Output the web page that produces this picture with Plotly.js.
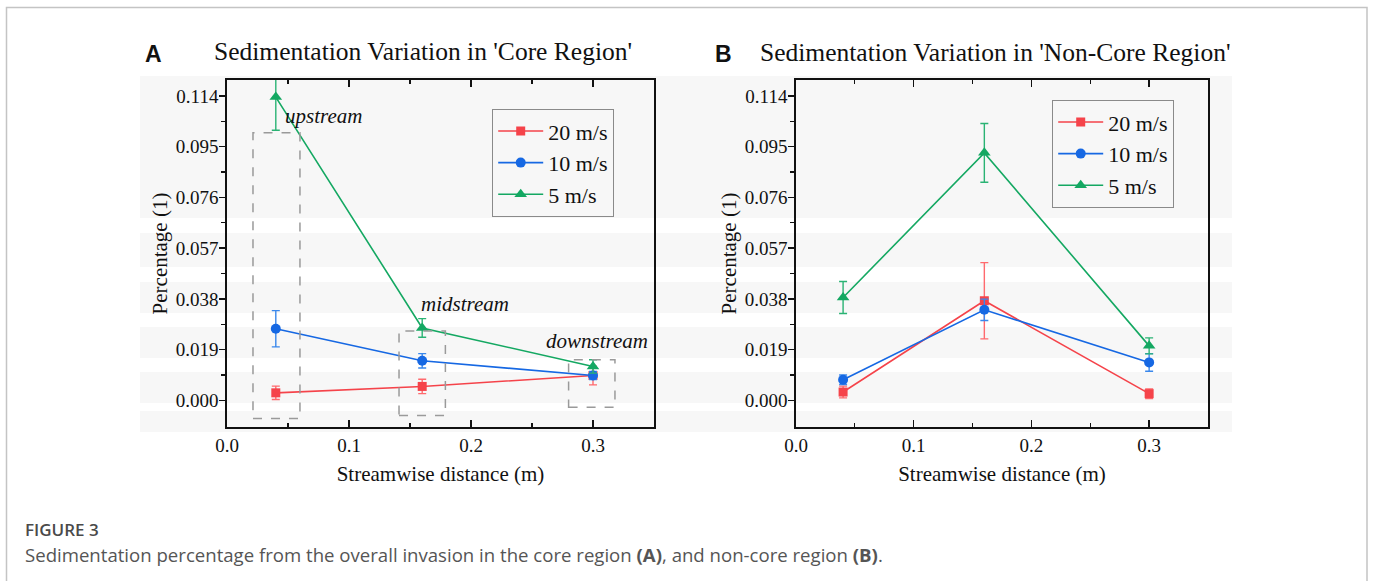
<!DOCTYPE html>
<html>
<head>
<meta charset="utf-8">
<script src="https://cdn.plot.ly/plotly-3.0.1.min.js"></script>
<style>html,body{margin:0;padding:0;background:#fff;}#chart{width:1375px;height:581px;}</style>
</head>
<body>
<div id="chart"></div>
<script>
// ---- data ----
const xPos = [0.04, 0.16, 0.30];
const seriesNames = ['20 m/s', '10 m/s', '5 m/s'];
// Panel A: core region
const coreRed = [0.0028, 0.0052, 0.0093];
const coreRedErr = [0.0025, 0.0027, 0.0035];
const coreBlue = [0.0268, 0.0148, 0.0093];
const coreBlueErr = [0.0068, 0.0027, 0.0015];
const coreGreen = [0.1136, 0.0271, 0.0127];
const coreGreenErr = [0.0124, 0.0035, 0.0025];
// Panel B: non-core region
const nonRed = [0.0031, 0.0373, 0.0025];
const nonRedErr = [0.0022, 0.0143, 0.0018];
const nonBlue = [0.0077, 0.0339, 0.0142];
const nonBlueErr = [0.0018, 0.0040, 0.0033];
const nonGreen = [0.0385, 0.0927, 0.0204];
const nonGreenErr = [0.0060, 0.0110, 0.0030];
// ticks
const yTickVals = [0.000, 0.019, 0.038, 0.057, 0.076, 0.095, 0.114];
const yTickText = ['0.000', '0.019', '0.038', '0.057', '0.076', '0.095', '0.114'];
const xTickVals = [0.0, 0.1, 0.2, 0.3];
const xTickText = ['0.0', '0.1', '0.2', '0.3'];
const regionLabels = ['upstream', 'midstream', 'downstream'];

const colors = ['#f5434a', '#1668e3', '#14a862'];
const errColors = ['#ff6a6e', '#3a88ec', '#2ab374'];
const symbols = ['square', 'circle', 'triangle-up'];
const sizes = [9, 10, 11];

function mk(y, err, i, xa, ya, leg) {
  return {
    x: xPos, y: y, name: seriesNames[i], type: 'scatter', mode: 'lines+markers',
    xaxis: xa, yaxis: ya, legend: leg,
    line: {color: colors[i], width: 1.6},
    marker: {color: colors[i], symbol: symbols[i], size: sizes[i]},
    error_y: {type: 'data', array: err, visible: true, color: errColors[i], thickness: 1.4, width: 4},
    cliponaxis: true
  };
}

const data = [
  mk(coreRed, coreRedErr, 0, 'x', 'y', 'legend'),
  mk(coreBlue, coreBlueErr, 1, 'x', 'y', 'legend'),
  mk(coreGreen, coreGreenErr, 2, 'x', 'y', 'legend'),
  mk(nonRed, nonRedErr, 0, 'x2', 'y2', 'legend2'),
  mk(nonBlue, nonBlueErr, 1, 'x2', 'y2', 'legend2'),
  mk(nonGreen, nonGreenErr, 2, 'x2', 'y2', 'legend2')
];

const W = 1375, H = 581;
const px = v => v / W;
const py = v => (H - v) / H;

const serif = 'Liberation Serif, Times New Roman, serif';
const tickFont = {family: serif, size: 19, color: '#111'};
const titleFont = {family: serif, size: 21, color: '#111'};

const domA = [px(227), px(654)];
const domB = [px(796), px(1208)];
const domY = [py(427), py(80)];
const yRange = [-0.01, 0.12];
const xRange = [0, 0.35];
const minorY = [0.0095, 0.0285, 0.0475, 0.0665, 0.0855, 0.1045];

function xAx(dom, anchor) {
  return {
    domain: dom, anchor: anchor, range: xRange, tickvals: xTickVals, ticktext: xTickText,
    ticks: 'inside', ticklen: 7, tickwidth: 1.5, tickcolor: '#111',
    showline: true, linecolor: '#111', linewidth: 1.8, mirror: 'ticks',
    showgrid: false, zeroline: false, tickfont: tickFont,
    minor: {dtick: 0.05, tick0: 0, ticks: 'inside', ticklen: 4, tickwidth: 1.2, tickcolor: '#111', showgrid: false},
    title: {text: 'Streamwise distance (m)', font: titleFont, standoff: 12}
  };
}
function yAx(dom, anchor) {
  return {
    domain: dom, anchor: anchor, range: yRange, tickvals: yTickVals, ticktext: yTickText,
    ticks: 'outside', ticklen: 6, tickwidth: 1.5, tickcolor: '#111',
    ticklabelstandoff: -3,
    showline: true, linecolor: '#111', linewidth: 1.8, mirror: true,
    showgrid: false, zeroline: false, tickfont: tickFont,
    minor: {tickvals: minorY, ticks: 'outside', ticklen: 4, tickwidth: 1.2, tickcolor: '#111', showgrid: false},
    title: {text: 'Percentage (1)', font: titleFont, standoff: 2}
  };
}
function yRight(overlay, anchor) {
  return {
    overlaying: overlay, side: 'right', anchor: anchor, range: yRange, tickvals: yTickVals,
    showticklabels: false, ticks: 'inside', ticklen: 7, tickwidth: 1.5, tickcolor: '#111',
    showline: false, showgrid: false, zeroline: false,
    minor: {tickvals: minorY, ticks: 'inside', ticklen: 4, tickwidth: 1.2, tickcolor: '#111', showgrid: false}
  };
}

// background band pattern (paper coords)
const shapes = [
  {type: 'rect', xref: 'paper', yref: 'paper', x0: px(140), x1: px(1232), y0: py(432), y1: py(76), fillcolor: '#f7f7f7', line: {width: 0}, layer: 'below'}
];
[[218, 233], [267, 282], [313, 327], [358, 372], [403, 411]].forEach(b => {
  shapes.push({type: 'rect', xref: 'paper', yref: 'paper', x0: px(140), x1: px(1232), y0: py(b[1]), y1: py(b[0]), fillcolor: '#ffffff', line: {width: 0}, layer: 'below'});
});
// outer border
shapes.push({type: 'rect', xref: 'paper', yref: 'paper', x0: px(6.5), x1: px(1367), y0: -0.1, y1: py(7.5), fillcolor: 'rgba(0,0,0,0)', line: {color: '#c4c4c4', width: 1.5}, layer: 'below'});
// dashed region boxes in panel A
const boxes = [[0.0213, 0.0598, -0.0068, 0.1002], [0.141, 0.179, -0.0057, 0.026], [0.280, 0.318, -0.0026, 0.0152]];
boxes.forEach(b => {
  shapes.push({type: 'rect', xref: 'x', yref: 'y', x0: b[0], x1: b[1], y0: b[2], y1: b[3], line: {color: '#9a9a9a', width: 1.5, dash: 'dash'}, fillcolor: 'rgba(0,0,0,0)', layer: 'above'});
});

const italic = {family: serif, size: 21, color: '#111'};
const annotations = [
  {xref: 'paper', yref: 'paper', x: px(423), y: py(52), text: "Sedimentation Variation in 'Core Region'", showarrow: false, font: {family: serif, size: 25.5, color: '#111'}, xanchor: 'center', yanchor: 'middle'},
  {xref: 'paper', yref: 'paper', x: px(995), y: py(53), text: "Sedimentation Variation in 'Non-Core Region'", showarrow: false, font: {family: serif, size: 25.5, color: '#111'}, xanchor: 'center', yanchor: 'middle'},
  {xref: 'paper', yref: 'paper', x: px(143), y: py(54), text: '<b>A</b>', showarrow: false, font: {family: 'Liberation Sans, Arial, sans-serif', size: 23, color: '#111'}, xanchor: 'left', yanchor: 'middle'},
  {xref: 'paper', yref: 'paper', x: px(713), y: py(54), text: '<b>B</b>', showarrow: false, font: {family: 'Liberation Sans, Arial, sans-serif', size: 23, color: '#111'}, xanchor: 'left', yanchor: 'middle'},
  {xref: 'paper', yref: 'paper', x: px(323), y: py(116), text: '<i>' + regionLabels[0] + '</i>', showarrow: false, font: italic, xanchor: 'center', yanchor: 'middle'},
  {xref: 'paper', yref: 'paper', x: px(465), y: py(304), text: '<i>' + regionLabels[1] + '</i>', showarrow: false, font: italic, xanchor: 'center', yanchor: 'middle'},
  {xref: 'paper', yref: 'paper', x: px(597), y: py(341), text: '<i>' + regionLabels[2] + '</i>', showarrow: false, font: italic, xanchor: 'center', yanchor: 'middle'},
  {xref: 'paper', yref: 'paper', x: px(23), y: py(529), text: 'FIGURE 3', showarrow: false, font: {family: 'Open Sans, sans-serif', size: 17, color: '#4a4a4a', weight: 600}, xanchor: 'left', yanchor: 'middle'},
  {xref: 'paper', yref: 'paper', x: px(23), y: py(554), text: 'Sedimentation percentage from the overall invasion in the core region <b>(A)</b>, and non-core region <b>(B)</b>.', showarrow: false, font: {family: 'Open Sans, sans-serif', size: 18.6, color: '#555'}, xanchor: 'left', yanchor: 'middle'}
];

const legBase = {
  bgcolor: 'rgba(255,255,255,0)', bordercolor: '#8a8a8a', borderwidth: 1.2,
  font: {family: serif, size: 22, color: '#111'}, xanchor: 'left', yanchor: 'top', tracegroupgap: 0, itemwidth: 45
};

const layout = {
  width: W, height: H,
  margin: {l: 0, r: 0, t: 0, b: 0},
  paper_bgcolor: '#ffffff', plot_bgcolor: 'rgba(0,0,0,0)',
  showlegend: true,
  xaxis: xAx(domA, 'y'),
  yaxis: yAx(domY, 'x'),
  xaxis2: xAx(domB, 'y2'),
  yaxis2: yAx(domY, 'x2'),
  yaxis3: yRight('y', 'x'),
  yaxis4: yRight('y2', 'x2'),
  legend: Object.assign({x: px(492), y: py(109)}, legBase),
  legend2: Object.assign({x: px(1052), y: py(100)}, legBase),
  shapes: shapes,
  annotations: annotations
};

Plotly.newPlot('chart', data, layout, {displayModeBar: false, staticPlot: true});
</script>
</body>
</html>
